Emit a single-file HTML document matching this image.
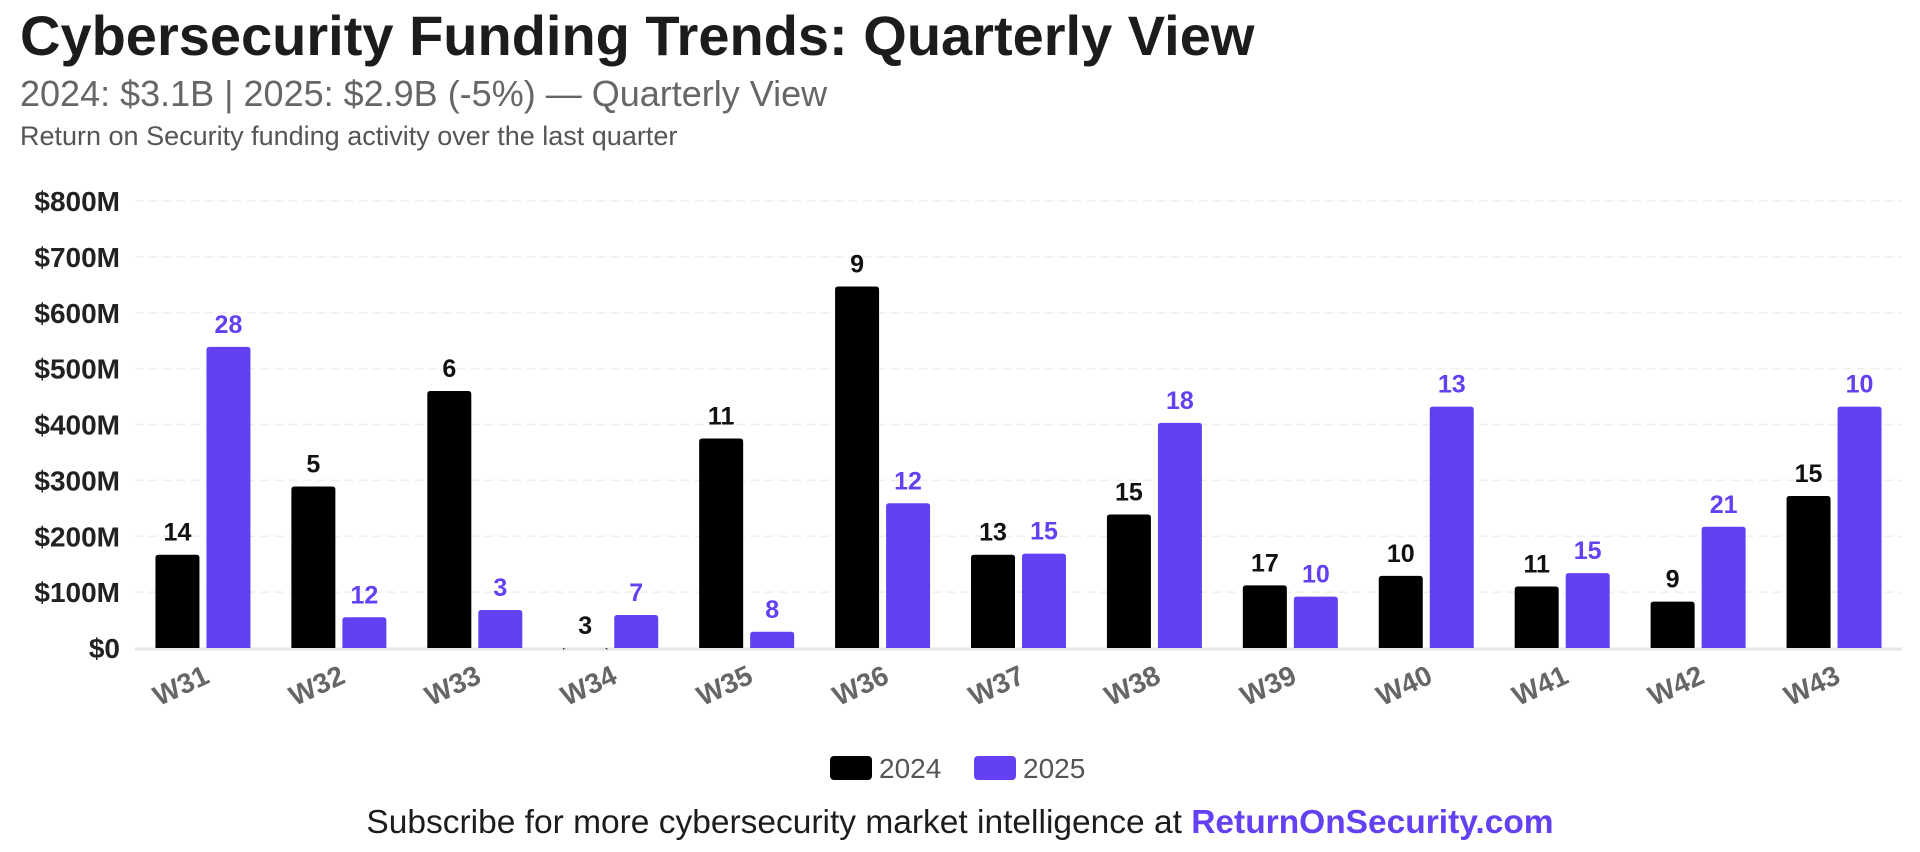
<!DOCTYPE html>
<html><head><meta charset="utf-8"><style>
body{margin:0;background:#fff;width:1920px;height:847px;overflow:hidden;font-family:"Liberation Sans",sans-serif}
</style></head><body>
<svg width="1920" height="847" viewBox="0 0 1920 847" id="chart">
<text x="20" y="55" font-size="56" font-weight="700" fill="#1c1c1c">Cybersecurity Funding Trends: Quarterly View</text>
<text x="20" y="106" font-size="36" fill="#666">2024: $3.1B | 2025: $2.9B (-5%) — Quarterly View</text>
<text x="20" y="145" font-size="27" fill="#555">Return on Security funding activity over the last quarter</text>
<g id="grid"></g><g id="bars"></g><g id="xlabels"></g>
<g>
<rect x="830" y="756" width="42" height="24" rx="4" fill="#000"/>
<text x="879" y="778" font-size="28" fill="#555">2024</text>
<rect x="974" y="756" width="42" height="24" rx="4" fill="#6340f2"/>
<text x="1023" y="778" font-size="28" fill="#555">2025</text>
</g>
<text x="960" y="833" font-size="33.5" text-anchor="middle" fill="#1c1c1c">Subscribe for more cybersecurity market intelligence at <tspan font-weight="700" fill="#6340f2">ReturnOnSecurity.com</tspan></text>
</svg>
<script>
const categories=["W31","W32","W33","W34","W35","W36","W37","W38","W39","W40","W41","W42","W43"];
const values2024=[167,289,460,0,375,647,167,239,112,129,110,83,272];
const values2025=[539,55,68,59,29,259,169,403,92,432,134,217,432];
const counts2024=[14,5,6,3,11,9,13,15,17,10,11,9,15];
const counts2025=[28,12,3,7,8,12,15,18,10,13,15,21,10];
const yTicks=[0,100,200,300,400,500,600,700,800];
const yTickLabels=["$0","$100M","$200M","$300M","$400M","$500M","$600M","$700M","$800M"];
const NS="http://www.w3.org/2000/svg";
const L=135,R=1902,Y0=648,Y800=201;
const y=v=>Y0-(v/800)*(Y0-Y800);
const band=(R-L)/categories.length;
const bx=i=>L+band*i+band/2;
function mk(t,a,p){const e=document.createElementNS(NS,t);for(const k in a)e.setAttribute(k,a[k]);p.appendChild(e);return e;}
const grid=document.getElementById('grid'),bars=document.getElementById('bars'),xl=document.getElementById('xlabels');
yTicks.forEach((t,i)=>{
 if(t>0){const g=mk('line',{x1:L,x2:R,y1:y(t),y2:y(t),stroke:'#eee','stroke-width':1.5,'stroke-dasharray':'8 6'},grid);
 
 }
 const tx=mk('text',{x:120,y:y(t)+10,'text-anchor':'end','font-size':28,'font-weight':700,fill:'#222'},grid);
 tx.textContent=yTickLabels[i];
 
 
});
const base=mk('line',{x1:L,x2:R,y1:Y0+1,y2:Y0+1,stroke:'#e5e5ea','stroke-width':3},grid);


const W=44,G=7;
categories.forEach((c,i)=>{
 const cx=bx(i);
 [[values2024,counts2024,'#000','#111',cx-G/2-W,'2024'],[values2025,counts2025,'#6340f2','#6340f2',cx+G/2,'2025']].forEach(s=>{
  const v=s[0][i],top=y(v);
  const r=mk('path',{d:`M${s[4]},${Y0} V${top+3} Q${s[4]},${top} ${s[4]+3},${top} H${s[4]+W-3} Q${s[4]+W},${top} ${s[4]+W},${top+3} V${Y0} Z`,fill:s[2]},bars);
  
  
  const t=mk('text',{x:s[4]+W/2,y:top-14,'text-anchor':'middle','font-size':25,'font-weight':600,fill:s[3]},bars);
  t.textContent=s[1][i];
  
  
 });
 const lx=cx+8,ly=Y0+34;
 const t=mk('text',{x:lx,y:ly,'text-anchor':'end','font-size':28,'font-weight':700,fill:'#666',transform:`rotate(-25 ${lx} ${ly})`},xl);
 t.textContent=c;
 
 
});
</script>
</body></html>
